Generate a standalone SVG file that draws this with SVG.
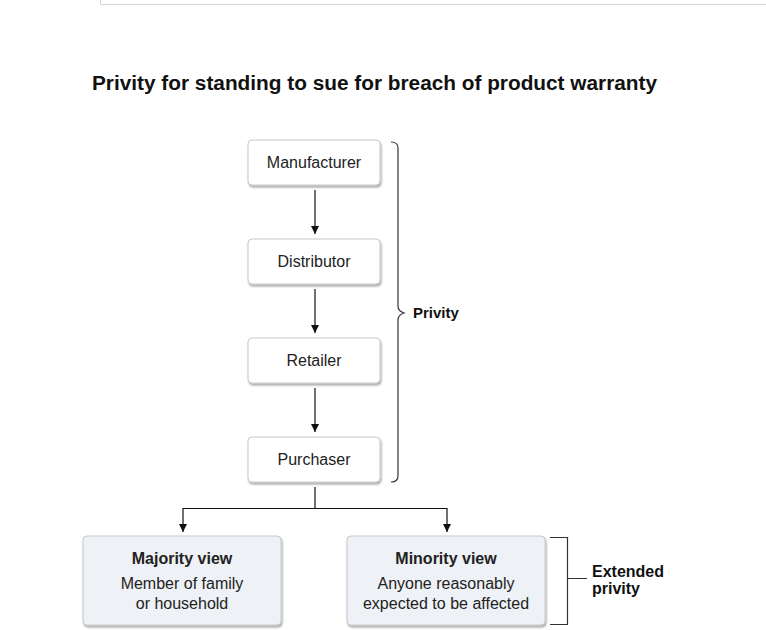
<svg xmlns="http://www.w3.org/2000/svg" width="766" height="630" viewBox="0 0 766 630">
<style>
.box{fill:#ffffff;stroke:#c8c8c8;stroke-width:1}
.vbox{fill:#eef1f5;stroke:#c8c8c8;stroke-width:1}
.lbl{font-family:"Liberation Sans",Arial,sans-serif;font-size:16px;fill:#222;text-anchor:middle}
.bold{font-weight:bold}
.conn{stroke:#111;stroke-width:1.2;fill:none}
.brace{stroke:#333;stroke-width:1.2;fill:none}
.side{font-family:"Liberation Sans",Arial,sans-serif;font-weight:bold;fill:#111}
</style>
<defs>
<marker id="ah" markerWidth="10" markerHeight="10" refX="8" refY="5" orient="auto" markerUnits="userSpaceOnUse">
<path d="M0,1 L8,5 L0,9 Z" fill="#111"/>
</marker>
<filter id="sh" x="-10%" y="-10%" width="130%" height="140%">
<feGaussianBlur in="SourceAlpha" stdDeviation="1.2"/>
<feOffset dx="1" dy="2" result="b"/>
<feComponentTransfer><feFuncA type="linear" slope="0.35"/></feComponentTransfer>
<feMerge><feMergeNode/><feMergeNode in="SourceGraphic"/></feMerge>
</filter>
</defs>
<rect width="766" height="630" fill="#ffffff"/>
<path d="M100.5,-1 V4.5 H766" fill="none" stroke="#d6d6d6" stroke-width="1"/>
<text x="92" y="90" font-family="&quot;Liberation Sans&quot;,Arial,sans-serif" font-size="20" font-weight="bold" fill="#111" textLength="565" lengthAdjust="spacingAndGlyphs">Privity for standing to sue for breach of product warranty</text>

<g id="manufacturer"><rect class="box" filter="url(#sh)" x="248" y="140" width="132" height="45" rx="4"/><text class="lbl" x="314" y="168">Manufacturer</text></g>
<g id="distributor"><rect class="box" filter="url(#sh)" x="248" y="239" width="132" height="45" rx="4"/><text class="lbl" x="314" y="267">Distributor</text></g>
<g id="retailer"><rect class="box" filter="url(#sh)" x="248" y="338" width="132" height="45" rx="4"/><text class="lbl" x="314" y="366">Retailer</text></g>
<g id="purchaser"><rect class="box" filter="url(#sh)" x="248" y="437" width="132" height="45" rx="4"/><text class="lbl" x="314" y="465">Purchaser</text></g>

<g id="majority"><rect class="vbox" filter="url(#sh)" x="83" y="536" width="198" height="89" rx="4"/>
<text class="lbl bold" x="182" y="564">Majority view</text>
<text class="lbl" x="182" y="589">Member of family</text>
<text class="lbl" x="182" y="609">or household</text></g>
<g id="minority"><rect class="vbox" filter="url(#sh)" x="347" y="536" width="198" height="89" rx="4"/>
<text class="lbl bold" x="446" y="564">Minority view</text>
<text class="lbl" x="446" y="589">Anyone reasonably</text>
<text class="lbl" x="446" y="609">expected to be affected</text></g>

<g id="connectors">
<line class="conn" x1="315" y1="190" x2="315" y2="234" marker-end="url(#ah)"/>
<line class="conn" x1="315" y1="289" x2="315" y2="333" marker-end="url(#ah)"/>
<line class="conn" x1="315" y1="388" x2="315" y2="432" marker-end="url(#ah)"/>
<polyline class="conn" points="315,487 315,508.5 183,508.5 183,532" marker-end="url(#ah)"/>
<polyline class="conn" points="315,508.5 447,508.5 447,532" marker-end="url(#ah)"/>
</g>

<g id="privity-brace">
<path class="brace" d="M391,142 Q398,142 398,148 V306 Q398,311 404,313 Q398,315 398,320 V476 Q398,482 391,482"/>
<text class="side" x="413" y="318" font-size="15">Privity</text>
</g>
<g id="extended-bracket">
<path class="brace" d="M550,537.5 H567.5 V624.5 H550 M567.5,578.5 H587"/>
<text class="side" x="592" y="577" font-size="16">Extended</text>
<text class="side" x="592" y="594" font-size="16">privity</text>
</g>
</svg>
